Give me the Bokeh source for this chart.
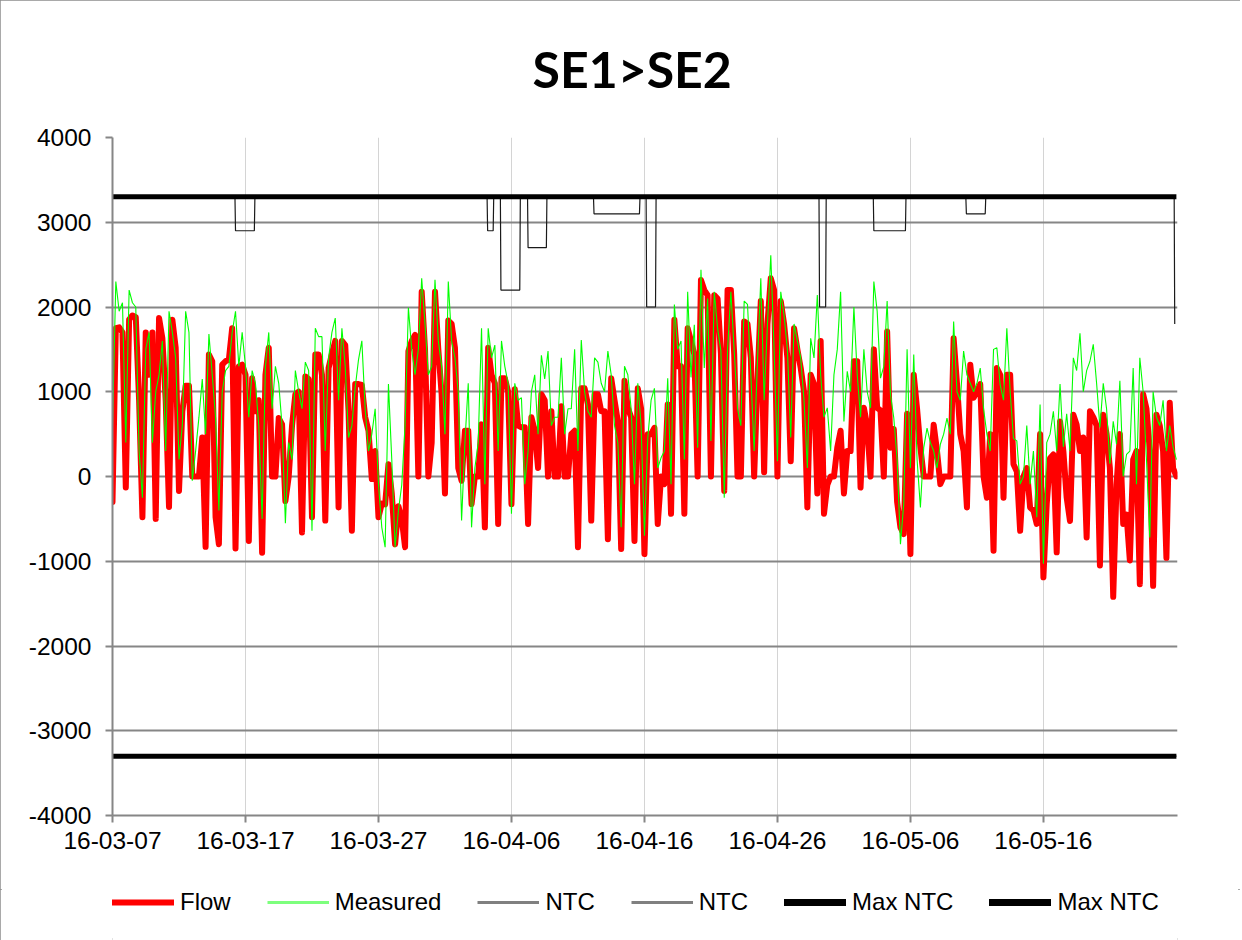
import pandas as pd
from bokeh.plotting import figure
from bokeh.layouts import column
from bokeh.models import (Range1d, FixedTicker, DatetimeTickFormatter, Legend,
                          LegendItem, ColumnDataSource)
from bokeh.embed import file_html
from bokeh.resources import INLINE

# ---------------- data (6-hourly samples) ----------------
START = "2016-03-07 00:00"
STEP = "6h"

flow = [
    -300, 1750, 1760, 1700, -130, 1850, 1900, 1880, 900, -480, 1700, 1200, 1700, -500, 1870, 1630, 900, -360, 1850, 1520,
    -170, 770, 1070, 1070, 0, 0, 0, 460, -830, 1440, 1360, -480, -800, 1320, 1360, 1380, 1750, -850, 1300, 1320,
    1200, -760, 1160, 770, 900, -900, 1200, 1520, 0, 0, 690, 615, -290, 0, 600, 970, 1000, -660, 1180, 1150,
    -480, 1440, 1440, 1200, -520, 1280, 1450, 1600, -365, 1600, 1550, 770, -640, 1090, 1090, 1080, 700, 540, -30, 300,
    -480, -320, -330, 145, -200, -800, -350, -500, -835, 1480, 1600, 1670, 0, 2180, 1500, 0, 400, 2180, 1500, 970,
    -200, 1840, 1800, 1520, 100, -50, 540, 540, -325, 0, 0, 615, -600, 1520, 1200, 1100, -560, 1160, 1160, 1000,
    -325, 1030, 600, 580, 580, -560, 700, 540, 100, 970, 900, 0, 770, 0, 0, 830, 0, 0, 500, 540,
    -835, 1040, 1040, 850, -520, 970, 970, 770, 770, -740, 1160, 900, 650, -855, 1130, 810, 700, -760, 1040, 800,
    -915, 500, 500, 575, -560, 0, -90, 850, -440, 1850, 1300, 1300, -440, 1750, 1600, 1440, 0, 2320, 2200, 2140,
    0, 2140, 2100, 1450, -170, 2200, 2200, 1440, 0, 0, 1830, 1800, 1400, 0, 1130, 2070, 50, 1800, 2340, 2200,
    0, 2070, 1800, 1400, 180, 1750, 1500, 1280, 1000, -365, 1200, 1090, -200, 1600, -440, -100, 0, 0, 340, 540,
    -200, 300, 300, 1360, 1360, -130, 810, 600, 0, 1500, 810, 780, 0, 1710, 340, 560, -300, -600, -680, 740,
    -915, 1200, 800, 340, 0, 0, 0, 610, 300, -90, 0, 0, 0, 1630, 1100, 500, 300, -365, 1320, 930,
    1000, 1090, 0, -250, 500, -875, 1280, 1200, -250, 1200, 1200, 145, 60, -640, 0, 100, -365, -400, -560, 500,
    -1190, -325, 215, 260, -895, 650, 300, -250, -525, 730, 610, 300, 460, -720, 770, 700, 600, -1050, 730, 500,
    100, -1420, -100, 500, -560, -450, -990, 200, 300, -1270, 970, 800, 300, -1290, 730, 600, 300, -960, 870, 100, 0,
]

measured = [
    600, 2300, 1950, 2050, 400, 2200, 2050, 2000, 300, -250, 1500, 1700, 400, 1000, 1200, 1600, 300, 1950, 1700, 1400,
    200, 600, 1950, 1700, -50, 300, 700, 1150, 500, 1680, 1200, 700, -400, 1000, 1250, 1300, 1700, 1950, 1300, 1700,
    1300, 700, 1250, 1100, 600, -500, 1300, 1700, 800, 1300, 1100, 600, -550, 400, 200, 1250, 1000, 800, 1350, 1250,
    -640, 1750, 1650, 1650, 300, 1400, 1700, 1870, 900, 1750, 1300, 460, 600, 1050, 1380, 1600, 800, 300, 500, 800,
    -90, -600, -835, 1090, 200, -835, -400, -100, 600, 1990, 1500, 1200, 1500, 2340, 1800, 1200, 1300, 2320, 1600, 1300,
    500, 2300, 1600, 1400, 1000, -520, 400, 1100, -600, 100, 400, 1750, -90, 1750, 1400, 1550, 300, 1600, 1300, 1100,
    -440, 1100, 900, 930, -90, 300, 1000, 1200, 500, 1430, 1150, 1480, 600, 700, 700, 1400, 500, 800, 800, 1500,
    300, 1610, 1000, 770, 700, 1400, 1350, 1100, 1000, 1480, 1200, 600, 400, -600, 1300, 1200, 800, -90, 1100, 600,
    -700, 450, 900, 1040, 100, 220, 300, 1160, -90, 2030, 1500, 1600, 200, 2180, 1170, 1790, 340, 2440, 1280, 2100,
    420, 2180, 1750, 1480, -250, 1500, 2180, 1480, 800, 600, 2070, 2030, 1200, 300, 1360, 2340, 900, 1800, 2610, 1500,
    180, 2180, 1900, 1500, 460, 1800, 1600, 1400, 900, 100, 1630, 1400, 2140, 1200, 700, 810, 300, 1200, 1500, 2180,
    650, 1240, 1000, 2000, 1200, 700, 1500, 1000, 810, 2300, 1950, 1160, 1300, 2070, 970, 690, 200, -800, -320, 1500,
    100, 1440, 200, -365, 340, 570, 400, 300, 100, 380, 500, 690, 500, 1830, 1000, 900, 1480, 1200, 1100, 1000,
    1100, 1280, 800, 500, 300, 1500, 1520, 1080, 900, 1750, 1000, 450, 420, -90, 0, 600, -90, 300, -480, 850,
    -1030, 400, 500, 770, 300, 1090, 350, 740, 300, 1400, 1250, 1690, 1000, 1250, 1360, 1560, 1100, 580, 1100, 800,
    150, 650, 380, 1130, 0, 260, 300, 1280, -90, 1400, 1000, 200, -720, 1000, 700, 600, 900, 300, 600, 350, 200,
]

# NTC (SE1>SE2): base level with reduced periods
ntc_base = 3300
ntc_dip_start = ["2016-03-16 05:00", "2016-04-04 04:00", "2016-04-05 04:00", "2016-04-07 05:00",
                 "2016-04-12 04:00", "2016-04-16 03:00", "2016-04-29 03:00", "2016-05-03 05:00",
                 "2016-05-10 04:00"]
ntc_dip_end = ["2016-03-17 16:00", "2016-04-04 15:00", "2016-04-06 15:00", "2016-04-08 15:00",
               "2016-04-15 15:00", "2016-04-16 20:00", "2016-04-29 15:00", "2016-05-05 15:00",
               "2016-05-11 15:00"]
ntc_dip_value = [2900, 2900, 2200, 2700, 3100, 2000, 2000, 2900, 3100]
ntc_last_time = "2016-05-25 21:00"
ntc_last_value = 1800

ntc2_value = -3300          # NTC SE2>SE1 (hidden under Max NTC)
max_ntc_values = [3300, -3300]

x_tick_dates = ["2016-03-07", "2016-03-17", "2016-03-27", "2016-04-06",
                "2016-04-16", "2016-04-26", "2016-05-06", "2016-05-16"]
y_ticks = [-4000, -3000, -2000, -1000, 0, 1000, 2000, 3000, 4000]
title_text = "SE1>SE2"
legend_labels = ["Flow", "Measured", "NTC", "NTC", "Max NTC", "Max NTC"]

# ---------------- build series ----------------
times = pd.date_range(START, periods=len(flow), freq=STEP)
src = ColumnDataSource(dict(t=times, flow=flow, measured=measured))

one_h = pd.Timedelta(hours=1)
ntc_t = [times[0]]
ntc_v = [ntc_base]
for s, e, v in zip(ntc_dip_start, ntc_dip_end, ntc_dip_value):
    s = pd.Timestamp(s)
    e = pd.Timestamp(e)
    ntc_t += [s, s + one_h, e, e + one_h]
    ntc_v += [ntc_base, v, v, ntc_base]
lt = pd.Timestamp(ntc_last_time)
ntc_t += [lt - one_h, lt]
ntc_v += [ntc_base, ntc_last_value]

t0 = times[0]
t1 = times[-1]

FW, FH = 1065, 678
p = figure(frame_width=FW, frame_height=FH, x_axis_type="datetime",
           output_backend="svg", toolbar_location=None,
           x_range=Range1d(pd.Timestamp("2016-03-07 00:00"), pd.Timestamp("2016-05-26 02:00")),
           y_range=Range1d(-4000, 4000),
           min_border_left=112, min_border_right=63, min_border_top=137, min_border_bottom=74)

p.title.text = title_text
p.title.align = "left"
p.title.offset = 420
p.title.vertical_align = "top"
p.title.text_font = "Lato"
p.title.text_font_style = "bold"
p.title.text_font_size = "50px"
p.title.text_color = "black"
p.title.standoff = 74

p.outline_line_color = None
p.background_fill_color = "white"
p.border_fill_color = "white"

# grids
p.ygrid.ticker = FixedTicker(ticks=y_ticks)
p.ygrid.grid_line_color = "#868686"
p.ygrid.grid_line_width = 2
x_ticks_ms = [pd.Timestamp(d).value // 10**6 for d in x_tick_dates]
p.xgrid.ticker = FixedTicker(ticks=x_ticks_ms)
p.xgrid.grid_line_color = "#d4d4d4"
p.xgrid.grid_line_width = 1

# axes
p.yaxis.ticker = FixedTicker(ticks=y_ticks)
p.yaxis.major_label_overrides = {v: str(v) for v in y_ticks}
p.xaxis.ticker = FixedTicker(ticks=x_ticks_ms)
fmt = "%y-%m-%d"
p.xaxis.formatter = DatetimeTickFormatter(milliseconds=fmt, seconds=fmt, minsec=fmt, minutes=fmt,
                                          hourmin=fmt, hours=fmt, days=fmt, months=fmt, years=fmt)
for ax in (p.xaxis, p.yaxis):
    ax.axis_line_color = "#868686"
    ax.axis_line_width = 2
    ax.major_tick_line_color = "#868686"
    ax.major_tick_line_width = 2
    ax.major_tick_in = 0
    ax.major_tick_out = 7
    ax.minor_tick_line_color = None
    ax.major_label_text_font = "Liberation Sans"
    ax.major_label_text_font_size = "24.5px"
    ax.major_label_text_color = "black"
p.yaxis.major_label_standoff = 14
p.xaxis.major_label_standoff = 9

# series
r_flow = p.line("t", "flow", source=src, line_color="#ff0000", line_width=6,
                line_join="round", line_cap="round")
r_meas = p.line("t", "measured", source=src, line_color="#00ff00", line_width=1.1)
r_ntc = p.line(ntc_t, ntc_v, line_color="#1a1a1a", line_width=1.2)
r_ntc2 = p.line([t0, t1], [ntc2_value, ntc2_value], line_color="#1a1a1a", line_width=1.2)
r_max1 = p.line([t0, t1], [max_ntc_values[0]] * 2, line_color="black", line_width=5)
r_max2 = p.line([t0, t1], [max_ntc_values[1]] * 2, line_color="black", line_width=5)

# ---------------- legend strip below the chart ----------------
lf = figure(width=112 + FW + 63, height=51, x_axis_type=None, y_axis_type=None,
            output_backend="svg", toolbar_location=None, min_border=0,
            x_range=Range1d(0, 1), y_range=Range1d(0, 1))
lf.outline_line_color = None
lf.background_fill_color = "white"
lf.border_fill_color = "white"

swatch_styles = [
    dict(line_color="#ff0000", line_width=6, line_cap="round"),
    dict(line_color="#7dff7d", line_width=3),
    dict(line_color="#808080", line_width=3),
    dict(line_color="#808080", line_width=3),
    dict(line_color="black", line_width=7, line_cap="round"),
    dict(line_color="black", line_width=7, line_cap="round"),
]
items = []
for lab, st in zip(legend_labels, swatch_styles):
    r = lf.line([0.5], [-5], **st)      # single off-range point: legend swatch only
    items.append(LegendItem(label=lab, renderers=[r]))

legend = Legend(items=items, orientation="horizontal", location=(0, 24),
                label_text_font="Liberation Sans", label_text_font_size="24px",
                label_text_color="black", glyph_width=62, glyph_height=24,
                label_height=24, label_standoff=6, spacing=36, padding=0, margin=0,
                border_line_color=None, background_fill_alpha=0)
lf.add_layout(legend)

layout = column(p, lf, spacing=0, width=112 + FW + 63, height=940)
layout.styles = {"outline": "2px solid #8c8c8c", "outline-offset": "-2px"}

open("out.html", "w").write(file_html(layout, INLINE))
